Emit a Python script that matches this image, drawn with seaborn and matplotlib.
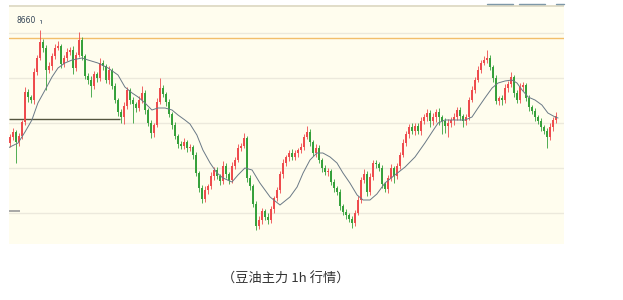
import numpy as np
import pandas as pd
import matplotlib
matplotlib.use("Agg")
import matplotlib.pyplot as plt
import seaborn as sns
from matplotlib.lines import Line2D

# ---------------- data ----------------
closes = [
    8442, 8452, 8432, 8444, 8472, 8532, 8522, 8516, 8572, 8600,
    8632, 8620, 8576, 8584, 8604, 8620, 8624, 8588, 8600, 8612,
    8616, 8580, 8606, 8636, 8604, 8564, 8556, 8544, 8568, 8560,
    8590, 8584, 8556, 8576, 8544, 8516, 8492, 8482, 8504, 8536,
    8516, 8508, 8500, 8516, 8530, 8496, 8470, 8450, 8466, 8512,
    8540, 8528, 8512, 8488, 8466, 8444, 8428, 8424, 8432, 8420,
    8422, 8406, 8370, 8340, 8318, 8336, 8344, 8364, 8376, 8364,
    8354, 8384, 8368, 8356, 8384, 8396, 8420, 8424, 8440, 8360,
    8344, 8308, 8264, 8276, 8294, 8282, 8276, 8298, 8320, 8336,
    8368, 8390, 8402, 8410, 8402, 8410, 8416, 8422, 8442, 8452,
    8432, 8410, 8420, 8396, 8380, 8372, 8374, 8352, 8340, 8332,
    8304, 8292, 8286, 8278, 8270, 8290, 8316, 8356, 8368, 8332,
    8362, 8390, 8388, 8380, 8348, 8338, 8360, 8380, 8364, 8384,
    8406, 8430, 8448, 8462, 8454, 8464, 8454, 8474, 8482, 8490,
    8474, 8482, 8492, 8482, 8474, 8464, 8470, 8476, 8482, 8496,
    8484, 8474, 8482, 8516, 8536, 8556, 8576, 8590, 8596, 8600,
    8582, 8560, 8514, 8520, 8516, 8540, 8548, 8562, 8530, 8516,
    8542, 8546, 8520, 8502, 8494, 8482, 8474, 8462, 8454, 8442,
    8462, 8476, 8484,
]
first_open = 8430

upper_wick = [
    6, 8, 4, 6, 4, 10, 6, 4, 8, 6,
    24, 6, 6, 8, 6, 8, 10, 4, 6, 8,
    6, 8, 6, 16, 6, 4, 6, 8, 6, 4,
    10, 6, 4, 8, 4, 6, 4, 6, 8, 6,
    4, 6, 4, 8, 14, 6, 4, 6, 4, 8,
    20, 6, 4, 6, 4, 6, 4, 6, 8, 4,
    6, 4, 6, 4, 6, 8, 4, 8, 6, 6,
    4, 10, 6, 4, 8, 6, 8, 6, 10, 4,
    6, 4, 6, 8, 6, 4, 8, 6, 4, 6,
    6, 8, 4, 6, 8, 6, 4, 8, 6, 12,
    6, 4, 8, 6, 4, 6, 6, 4, 6, 4,
    6, 4, 6, 4, 6, 6, 8, 6, 10, 6,
    8, 6, 6, 4, 6, 4, 6, 8, 4, 6,
    6, 8, 6, 6, 8, 6, 6, 8, 6, 8,
    6, 8, 6, 8, 4, 6, 8, 6, 8, 6,
    6, 4, 6, 6, 8, 6, 8, 6, 8, 16,
    6, 4, 6, 4, 6, 8, 6, 10, 4, 6,
    8, 6, 4, 6, 4, 6, 4, 6, 4, 6,
    8, 6, 8,
]
lower_wick = [
    8, 6, 42, 8, 6, 6, 10, 6, 8, 6,
    4, 8, 40, 6, 8, 6, 4, 8, 6, 6,
    6, 12, 6, 4, 8, 6, 8, 22, 6, 8,
    6, 8, 6, 8, 6, 6, 8, 12, 14, 6,
    8, 38, 8, 6, 6, 8, 6, 10, 8, 4,
    4, 6, 8, 6, 8, 6, 8, 6, 6, 8,
    6, 8, 6, 8, 8, 6, 8, 6, 8, 6,
    8, 6, 8, 8, 6, 6, 4, 6, 4, 8,
    8, 6, 8, 6, 8, 6, 8, 6, 8, 6,
    6, 8, 6, 8, 6, 6, 8, 6, 6, 4,
    8, 6, 8, 6, 8, 6, 8, 6, 8, 6,
    8, 6, 8, 6, 10, 6, 4, 6, 6, 8,
    6, 6, 8, 6, 8, 6, 8, 6, 14, 6,
    6, 4, 6, 8, 6, 8, 6, 8, 6, 8,
    12, 8, 10, 16, 26, 14, 22, 8, 10, 6,
    8, 12, 8, 6, 4, 6, 4, 6, 4, 6,
    6, 8, 6, 8, 10, 6, 8, 6, 8, 6,
    6, 8, 6, 8, 6, 8, 6, 8, 6, 22,
    6, 8, 6,
]

# moving-average line, sampled along the bar index
ma_index = [-0.7, 2.7, 5, 7.3, 9.3, 11.7, 14, 16, 18.3, 20.7, 24, 26, 29.3,
            32.7, 36, 38.3, 40.7, 42.7, 45, 47.3, 49.3, 51.7, 54, 56, 58.3,
            60, 62.3, 64.3, 66.7, 69, 71, 74, 76, 78.3, 80.7, 83.3, 86.7, 90,
            93.3, 95.7, 97.7, 100, 102.3, 104.3, 106.7, 109, 111, 113.3,
            115.7, 117.7, 120, 122.3, 125, 128.3, 131.7, 135, 138.3, 140.7,
            142.7, 145, 148.3, 151.7, 154, 156, 158.3, 160.7, 162.7, 165,
            167.3, 169, 170.7, 172.7, 175, 177.3, 179.3, 181.7, 182.7]
ma_value = [8420, 8430, 8452, 8476, 8510, 8536, 8562, 8580, 8590, 8596, 8600,
            8596, 8590, 8580, 8566, 8542, 8530, 8522, 8510, 8496, 8500, 8500,
            8496, 8486, 8476, 8468, 8446, 8416, 8390, 8370, 8360, 8352, 8366,
            8380, 8376, 8350, 8322, 8306, 8322, 8342, 8370, 8396, 8410, 8410,
            8402, 8390, 8370, 8350, 8326, 8316, 8316, 8328, 8350, 8366, 8382,
            8402, 8430, 8452, 8470, 8476, 8476, 8476, 8482, 8500, 8520, 8540,
            8550, 8554, 8556, 8550, 8536, 8522, 8516, 8506, 8490, 8482, 8480]

grid_levels = [8650, 8560, 8470, 8380, 8290]
top_level = 8704
resistance_level = 8640
support_level = 8478
support_end = 36.7
small_level = 8294
peak_label = "8660"
peak_bar = 10
caption = "（豆油主力 1h 行情）"

# ---------------- build table ----------------
n = len(closes)
opens = [first_open] + closes[:-1]
df = pd.DataFrame({"bar": np.arange(n), "open": opens, "close": closes,
                   "uw": upper_wick, "lw": lower_wick})
df["top"] = df[["open", "close"]].max(axis=1)
df["bottom"] = df[["open", "close"]].min(axis=1)
df["high"] = df["top"] + df["uw"]
df["low"] = df["bottom"] - df["lw"]
df["up"] = df["close"] >= df["open"]
ma = pd.DataFrame({"bar": ma_index, "ma": ma_value})

# ---------------- figure ----------------
sns.set_theme(style="white")
plt.rcParams["font.family"] = ["Noto Sans CJK SC", "DejaVu Sans"]

W, H = 623, 300
fig = plt.figure(figsize=(W / 100, H / 100), dpi=100)
fig.patch.set_facecolor("white")
ax = fig.add_axes([9 / W, 1 - 244 / H, (564 - 9) / W, (244 - 5) / H])
ax.set_facecolor("#FFFDEE")
for s in ax.spines.values():
    s.set_visible(False)

ax.set_xlim(-0.33, 184.67)
ax.set_ylim(8228, 8706)

for g in grid_levels:
    ax.axhline(g, color="#ECE9DC", lw=1.0, zorder=1)
ax.axhline(top_level, color="#DCD7C2", lw=1.2, zorder=1)
ax.axhline(resistance_level, color="#F2BE6A", lw=1.0, zorder=1)
ax.hlines(support_level, -0.33, support_end, color="#55553F", lw=1.0, zorder=2)
ax.hlines(small_level, -0.33, 3.3, color="#9A9A9A", lw=1.2, zorder=2)

red = "#EE4A4C"
green = "#34A03A"
colors = np.where(df["up"], red, green)
ax.vlines(df["bar"], df["low"], df["high"], colors=colors, lw=0.6, zorder=3)
body_bottom = df["bottom"]
body_top = np.maximum(df["top"], df["bottom"] + 1.5)
ax.vlines(df["bar"], body_bottom, body_top, colors=colors, lw=1.4, zorder=4)

sns.lineplot(data=ma, x="bar", y="ma", ax=ax, color="#6A7986", lw=0.7,
             zorder=5, legend=False)

ax.set_xticks([])
ax.set_yticks([])
ax.set_xlabel("")
ax.set_ylabel("")

# peak label
ph = float(df.loc[peak_bar, "high"])
ax.annotate(peak_label, xy=(peak_bar + 0.5, ph + 14), xytext=(-4, 2),
            textcoords="offset points", ha="right", va="center",
            fontsize=5.5, color="#334455", family=["DejaVu Sans"],
            arrowprops=dict(arrowstyle="-", color="#556677", lw=0.6,
                            shrinkA=0.5, shrinkB=0,
                            connectionstyle="angle,angleA=0,angleB=90,rad=0"))

# legend stubs at top right
for x0, x1 in [(487, 513), (519, 545), (556, 564)]:
    fig.add_artist(Line2D([x0 / W, x1 / W], [1 - 4 / H, 1 - 4 / H],
                          color="#7E98A8", lw=1.0))

fig.text(286 / W, 1 - 279 / H, caption, ha="center", va="center",
         fontsize=9.5, color="#333333")

fig.savefig("out.png", dpi=100, facecolor="white")
